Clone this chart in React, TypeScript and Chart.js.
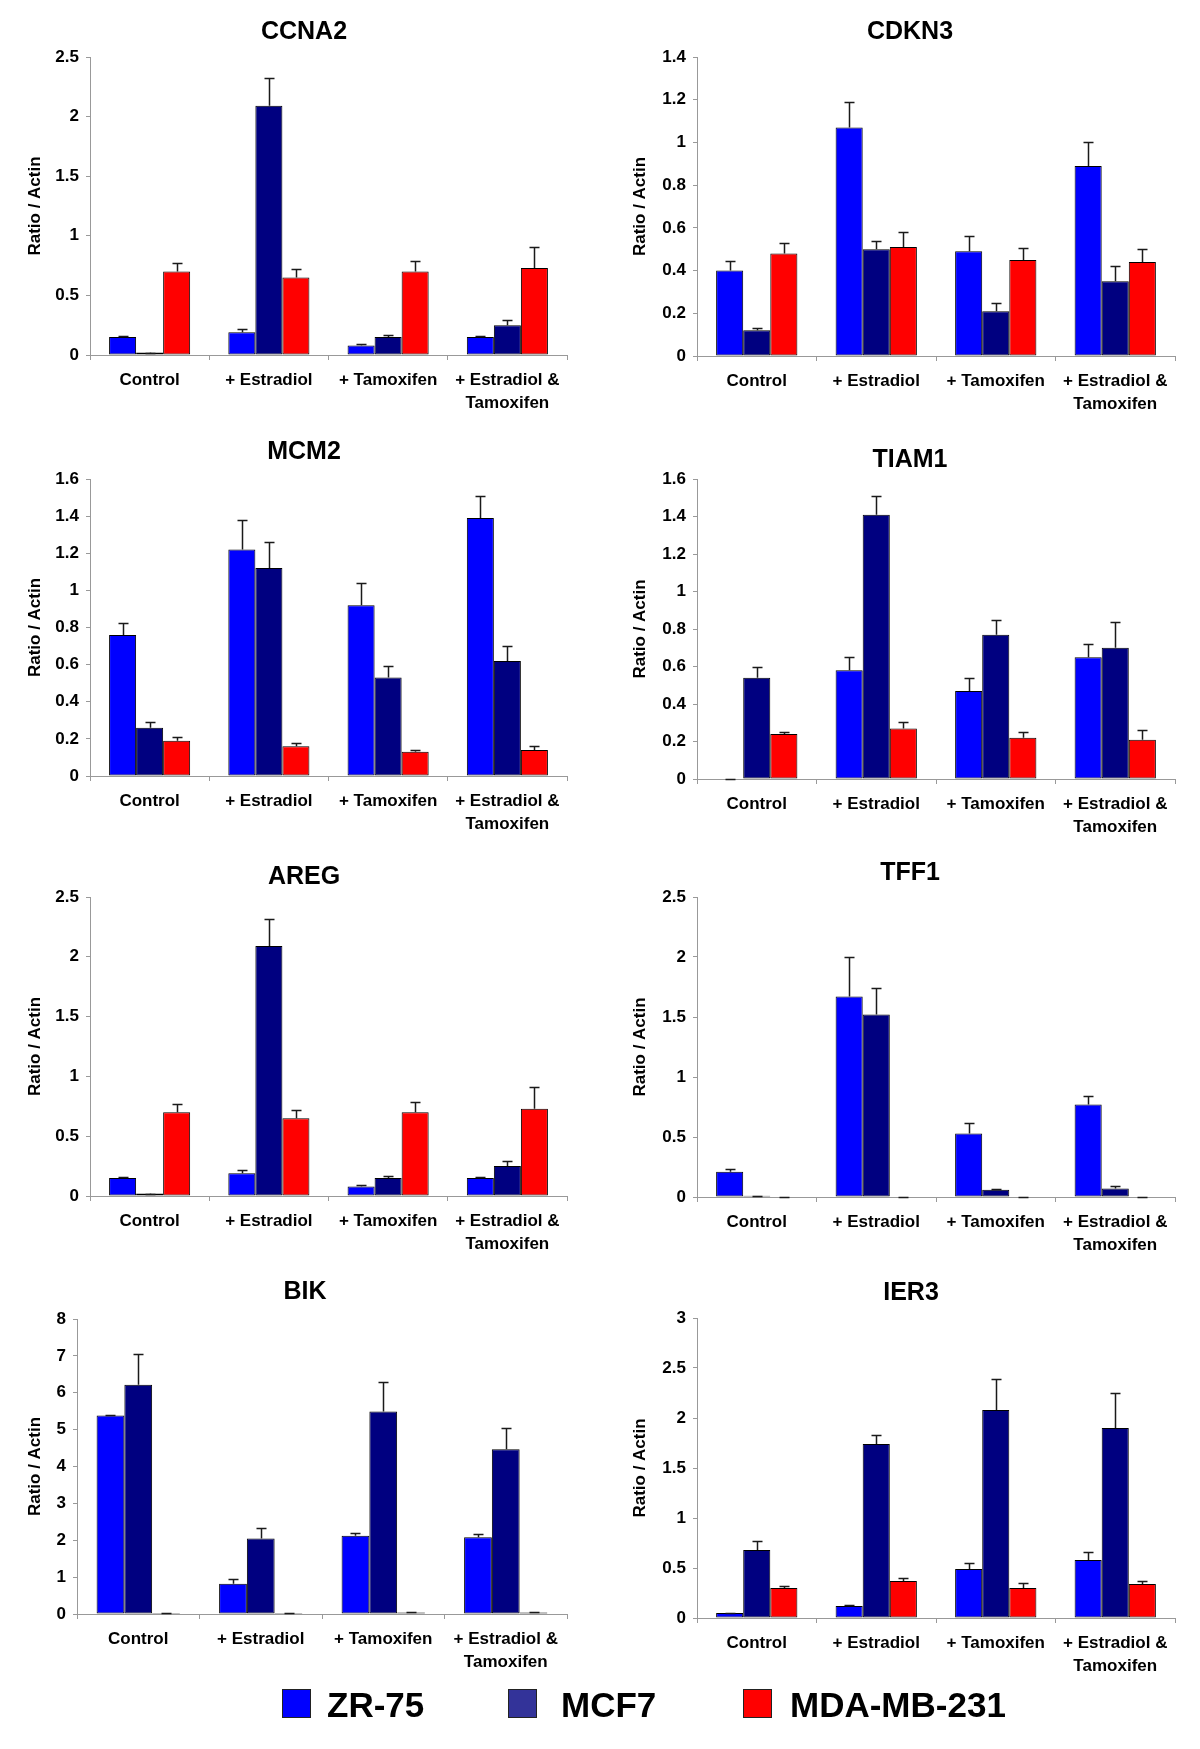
import React, { useEffect, useRef } from 'react';
import { Chart, registerables } from 'chart.js';

Chart.register(...registerables);

const FONT = '"Liberation Sans", Arial, sans-serif';

// ---------- data ----------
const categories: (string | string[])[] = ['Control', '+ Estradiol', '+ Tamoxifen', ['+ Estradiol &', 'Tamoxifen']];
const seriesNames = ['ZR-75', 'MCF7', 'MDA-MB-231'];
const seriesColors = ['#0000FF', '#000080', '#FF0000'];
const legendColors = ['#0000FF', '#333399', '#FF0000'];

// CCNA2
const ccna2ZR = [0.15, 0.19, 0.08, 0.15];
const ccna2ZRErr = [0.01, 0.03, 0.01, 0.01];
const ccna2MCF7 = [0.02, 2.09, 0.15, 0.25];
const ccna2MCF7Err = [0.0, 0.23, 0.02, 0.04];
const ccna2MDA = [0.70, 0.65, 0.70, 0.73];
const ccna2MDAErr = [0.07, 0.07, 0.09, 0.18];

// CDKN3
const cdkn3ZR = [0.40, 1.07, 0.49, 0.89];
const cdkn3ZRErr = [0.045, 0.12, 0.07, 0.11];
const cdkn3MCF7 = [0.12, 0.50, 0.21, 0.35];
const cdkn3MCF7Err = [0.01, 0.04, 0.04, 0.07];
const cdkn3MDA = [0.48, 0.51, 0.45, 0.44];
const cdkn3MDAErr = [0.05, 0.07, 0.055, 0.06];

// MCM2
const mcm2ZR = [0.76, 1.22, 0.92, 1.39];
const mcm2ZRErr = [0.065, 0.16, 0.12, 0.12];
const mcm2MCF7 = [0.26, 1.12, 0.53, 0.62];
const mcm2MCF7Err = [0.03, 0.14, 0.06, 0.08];
const mcm2MDA = [0.19, 0.16, 0.13, 0.14];
const mcm2MDAErr = [0.02, 0.02, 0.01, 0.02];

// TIAM1
const tiam1ZR = [0.0, 0.58, 0.47, 0.65];
const tiam1ZRErr = [0.0, 0.07, 0.07, 0.07];
const tiam1MCF7 = [0.54, 1.41, 0.77, 0.70];
const tiam1MCF7Err = [0.06, 0.10, 0.08, 0.14];
const tiam1MDA = [0.24, 0.27, 0.22, 0.21];
const tiam1MDAErr = [0.01, 0.035, 0.03, 0.05];

// AREG
const aregZR = [0.15, 0.19, 0.08, 0.15];
const aregZRErr = [0.01, 0.03, 0.01, 0.01];
const aregMCF7 = [0.02, 2.09, 0.15, 0.25];
const aregMCF7Err = [0.0, 0.23, 0.02, 0.04];
const aregMDA = [0.70, 0.65, 0.70, 0.73];
const aregMDAErr = [0.07, 0.07, 0.09, 0.18];

// TFF1
const tff1ZR = [0.21, 1.67, 0.53, 0.77];
const tff1ZRErr = [0.02, 0.33, 0.09, 0.07];
const tff1MCF7 = [0.01, 1.52, 0.06, 0.07];
const tff1MCF7Err = [0.0, 0.22, 0.01, 0.02];
const tff1MDA = [0.0, 0.0, 0.0, 0.0];
const tff1MDAErr = [0.0, 0.0, 0.0, 0.0];

// BIK
const bikZR = [5.38, 0.82, 2.12, 2.08];
const bikZRErr = [0.03, 0.14, 0.09, 0.1];
const bikMCF7 = [6.22, 2.05, 5.49, 4.47];
const bikMCF7Err = [0.82, 0.28, 0.8, 0.57];
const bikMDA = [0.03, 0.03, 0.04, 0.04];
const bikMDAErr = [0.0, 0.0, 0.02, 0.02];

// IER3
const ier3ZR = [0.05, 0.12, 0.49, 0.58];
const ier3ZRErr = [0.0, 0.01, 0.06, 0.08];
const ier3MCF7 = [0.68, 1.74, 2.08, 1.90];
const ier3MCF7Err = [0.09, 0.09, 0.31, 0.35];
const ier3MDA = [0.30, 0.37, 0.30, 0.34];
const ier3MDAErr = [0.02, 0.03, 0.05, 0.03];

const yAxisTitle = 'Ratio / Actin';

// ---------- panel configs ----------
type PanelCfg = {
  title: string;
  values: number[][];
  errors: number[][];
  yMax: number;
  yStep: number;
  canvas: { left: number; width: number };
  titleX: number;
  titleY: number;
  area: { l: number; r: number; t: number; b: number };
  yTitleX: number;
};

const LEFT = { left: 0, width: 608 };
const RIGHT = { left: 610, width: 600 };

const panels: PanelCfg[] = [
  { title: 'CCNA2', values: [ccna2ZR, ccna2MCF7, ccna2MDA], errors: [ccna2ZRErr, ccna2MCF7Err, ccna2MDAErr], yMax: 2.5, yStep: 0.5,
    canvas: LEFT, titleX: 304, titleY: 32, area: { l: 90, r: 567, t: 57, b: 355 }, yTitleX: 35 },
  { title: 'CDKN3', values: [cdkn3ZR, cdkn3MCF7, cdkn3MDA], errors: [cdkn3ZRErr, cdkn3MCF7Err, cdkn3MDAErr], yMax: 1.4, yStep: 0.2,
    canvas: RIGHT, titleX: 910, titleY: 32, area: { l: 697, r: 1175, t: 57, b: 356 }, yTitleX: 640 },
  { title: 'MCM2', values: [mcm2ZR, mcm2MCF7, mcm2MDA], errors: [mcm2ZRErr, mcm2MCF7Err, mcm2MDAErr], yMax: 1.6, yStep: 0.2,
    canvas: LEFT, titleX: 304, titleY: 452, area: { l: 90, r: 567, t: 479, b: 776 }, yTitleX: 35 },
  { title: 'TIAM1', values: [tiam1ZR, tiam1MCF7, tiam1MDA], errors: [tiam1ZRErr, tiam1MCF7Err, tiam1MDAErr], yMax: 1.6, yStep: 0.2,
    canvas: RIGHT, titleX: 910, titleY: 460, area: { l: 697, r: 1175, t: 479, b: 779 }, yTitleX: 640 },
  { title: 'AREG', values: [aregZR, aregMCF7, aregMDA], errors: [aregZRErr, aregMCF7Err, aregMDAErr], yMax: 2.5, yStep: 0.5,
    canvas: LEFT, titleX: 304, titleY: 877, area: { l: 90, r: 567, t: 897, b: 1196 }, yTitleX: 35 },
  { title: 'TFF1', values: [tff1ZR, tff1MCF7, tff1MDA], errors: [tff1ZRErr, tff1MCF7Err, tff1MDAErr], yMax: 2.5, yStep: 0.5,
    canvas: RIGHT, titleX: 910, titleY: 873, area: { l: 697, r: 1175, t: 897, b: 1197 }, yTitleX: 640 },
  { title: 'BIK', values: [bikZR, bikMCF7, bikMDA], errors: [bikZRErr, bikMCF7Err, bikMDAErr], yMax: 8, yStep: 1,
    canvas: LEFT, titleX: 305, titleY: 1292, area: { l: 77, r: 567, t: 1319, b: 1614 }, yTitleX: 35 },
  { title: 'IER3', values: [ier3ZR, ier3MCF7, ier3MDA], errors: [ier3ZRErr, ier3MCF7Err, ier3MDAErr], yMax: 3, yStep: 0.5,
    canvas: RIGHT, titleX: 911, titleY: 1293, area: { l: 697, r: 1175, t: 1318, b: 1618 }, yTitleX: 640 },
];

const legendItems = [
  { boxX: 282, textX: 327 },
  { boxX: 508, textX: 561 },
  { boxX: 743, textX: 790 },
];
const legendBoxTop = 1689;
const legendBoxSize = 29;

// ---------- error bar plugin ----------
const errorBarPlugin = {
  id: 'errorBars',
  afterDatasetsDraw(chart: any) {
    const ctx = chart.ctx;
    const yScale = chart.scales.y;
    chart.data.datasets.forEach((ds: any, i: number) => {
      const meta = chart.getDatasetMeta(i);
      meta.data.forEach((el: any, j: number) => {
        const v = ds.data[j];
        const e = ds.errors ? ds.errors[j] : 0;
        const yTop = Math.round(yScale.getPixelForValue(v + e)) + 0.5;
        const x = Math.round(el.x) + 0.5;
        ctx.save();
        ctx.strokeStyle = '#1a1a1a';
        ctx.lineWidth = 1.5;
        ctx.beginPath();
        ctx.moveTo(x, el.y);
        ctx.lineTo(x, yTop);
        ctx.moveTo(x - 5, yTop);
        ctx.lineTo(x + 5, yTop);
        ctx.stroke();
        ctx.restore();
      });
    });
  },
};

function Panel({ cfg }: { cfg: PanelCfg }) {
  const ref = useRef<HTMLCanvasElement>(null);
  const top = cfg.titleY - 31;
  const height = cfg.area.b - top + 72;
  const left = cfg.canvas.left;
  const width = cfg.canvas.width;

  useEffect(() => {
    if (!ref.current) return;
    const areaL = cfg.area.l - left;
    const areaR = cfg.area.r - left;
    const areaT = cfg.area.t - top;
    const areaB = cfg.area.b - top;
    const padRight = width - areaR;
    // left padding chosen so the (padded) title box is centred on titleX
    const padLeft = 2 * (cfg.titleX - left) - areaR;
    const titleSize = 25;
    const titleLH = titleSize * 1.2;
    const titlePadTop = cfg.titleY - top - titleLH / 2;
    const titlePadBottom = areaT - titlePadTop - titleLH;
    const axTitleLH = 17 * 1.2;

    const chart = new Chart(ref.current, {
      type: 'bar',
      data: {
        labels: categories as any,
        datasets: seriesNames.map((name, i) => ({
          label: name,
          data: cfg.values[i],
          errors: cfg.errors[i],
          backgroundColor: seriesColors[i],
          borderColor: '#000',
          borderWidth: 1,
          borderSkipped: false,
          categoryPercentage: 0.68,
          barPercentage: 1,
        })) as any,
      },
      options: {
        animation: false,
        responsive: false,
        devicePixelRatio: 1,
        layout: { padding: { left: padLeft, top: 0, bottom: 0, right: padRight } },
        plugins: {
          legend: { display: false },
          tooltip: { enabled: false },
          title: {
            display: true,
            text: cfg.title,
            color: '#000',
            font: { family: FONT, size: titleSize, weight: 'bold', lineHeight: 1.2 },
            padding: { top: titlePadTop, bottom: titlePadBottom },
          },
        },
        scales: {
          x: {
            grid: { drawOnChartArea: false, drawTicks: true, tickLength: 5, color: '#999', offset: true },
            border: { color: '#999', width: 1 },
            ticks: {
              autoSkip: false,
              maxRotation: 0,
              minRotation: 0,
              padding: 8.5,
              color: '#000',
              font: { family: FONT, size: 17, weight: 'bold', lineHeight: 1.353 },
            },
            afterFit: (s: any) => { s.height = height - areaB; },
          },
          y: {
            min: 0,
            max: cfg.yMax,
            grid: { drawOnChartArea: false, drawTicks: true, tickLength: 4, color: '#999' },
            border: { color: '#999', width: 1 },
            ticks: {
              stepSize: cfg.yStep,
              padding: 7,
              color: '#000',
              font: { family: FONT, size: 17, weight: 'bold' },
              callback: (v: any) => String(Math.round(Number(v) * 100) / 100),
            },
            title: {
              display: true,
              text: yAxisTitle,
              color: '#000',
              font: { family: FONT, size: 17, weight: 'bold', lineHeight: 1.2 },
              padding: { top: cfg.yTitleX - left - padLeft - axTitleLH / 2, bottom: 0 },
            },
            afterFit: (s: any) => { s.width = areaL - padLeft; },
          },
        },
      } as any,
      plugins: [errorBarPlugin],
    });
    return () => chart.destroy();
  }, []);

  return (
    <canvas
      ref={ref}
      width={width}
      height={height}
      style={{ position: 'absolute', left, top, width, height }}
    />
  );
}

export default function App() {
  return (
    <div
      style={{
        position: 'absolute',
        left: 0,
        top: 0,
        width: 1200,
        height: 1749,
        overflow: 'hidden',
        background: '#fff',
      }}
    >
      {panels.map((p) => (
        <Panel key={p.title} cfg={p} />
      ))}
      {seriesNames.map((name, i) => (
        <React.Fragment key={name}>
          <div
            style={{
              position: 'absolute',
              left: legendItems[i].boxX,
              top: legendBoxTop,
              width: legendBoxSize,
              height: legendBoxSize,
              background: legendColors[i],
              border: '1.5px solid #222',
              boxSizing: 'border-box',
            }}
          />
          <div
            style={{
              position: 'absolute',
              left: legendItems[i].textX,
              top: legendBoxTop + legendBoxSize / 2,
              transform: 'translateY(-50%)',
              font: `bold 35px ${FONT}`,
              lineHeight: 1,
              color: '#000',
              whiteSpace: 'nowrap',
            }}
          >
            {name}
          </div>
        </React.Fragment>
      ))}
    </div>
  );
}
